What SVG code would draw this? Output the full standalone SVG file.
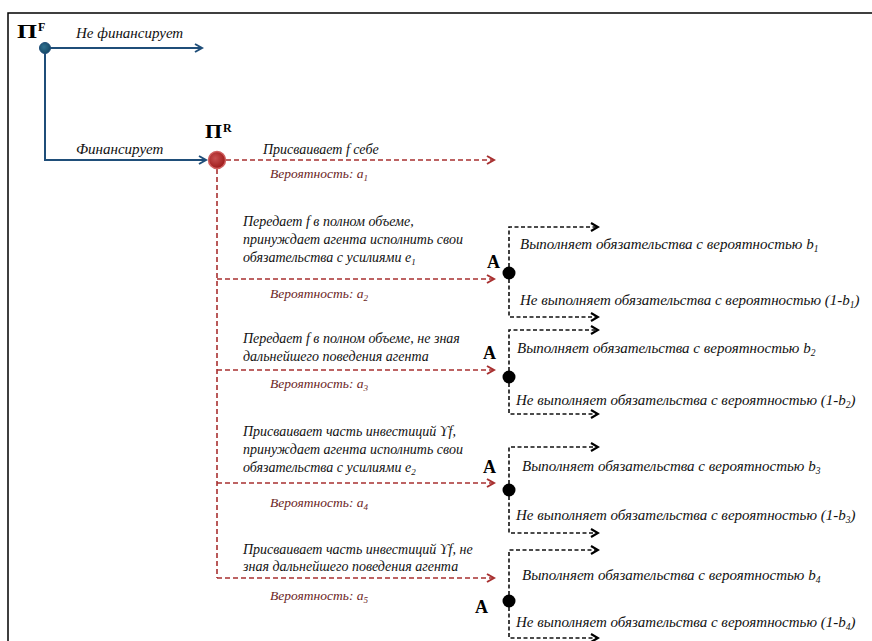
<svg xmlns="http://www.w3.org/2000/svg" width="872" height="641" viewBox="0 0 872 641">
<style>
  .frame{fill:none;stroke:#000;stroke-width:1.5}
  .blue{fill:none;stroke:#1f4e79;stroke-width:2}
  .red{fill:none;stroke:#a83030;stroke-width:1.6;stroke-dasharray:5 3}
  .blk{fill:none;stroke:#111;stroke-width:1.6;stroke-dasharray:4 2.5}
  .lbl{font-family:"Liberation Serif","DejaVu Serif",serif;font-style:italic;font-size:14px;fill:#111}
  .lblR{font-family:"Liberation Serif","DejaVu Serif",serif;font-style:italic;font-size:15px;fill:#111}
  .prob{font-family:"Liberation Serif","DejaVu Serif",serif;font-style:italic;font-size:13.5px;fill:#6b1e1e}
  .pi{font-family:"Liberation Serif","DejaVu Serif",serif;font-weight:bold;font-size:19px;fill:#000}
  .sup{font-family:"Liberation Serif","DejaVu Serif",serif;font-weight:bold;font-size:12px;fill:#000}
  .ag{font-family:"Liberation Serif","DejaVu Serif",serif;font-weight:bold;font-size:18px;fill:#000}
</style>
<defs>
  <marker id="mBlue" markerWidth="10" markerHeight="10" refX="8" refY="5" orient="auto" markerUnits="userSpaceOnUse">
    <path d="M1,1 L8,5 L1,9" fill="none" stroke="#1f4e79" stroke-width="2"/>
  </marker>
  <marker id="mRed" markerWidth="10" markerHeight="10" refX="8" refY="5" orient="auto" markerUnits="userSpaceOnUse">
    <path d="M1,1 L8,5 L1,9" fill="none" stroke="#a83030" stroke-width="2"/>
  </marker>
  <marker id="mBlk" markerWidth="10" markerHeight="10" refX="8" refY="5" orient="auto" markerUnits="userSpaceOnUse">
    <path d="M1,1 L8,5 L1,9" fill="none" stroke="#000" stroke-width="2.2"/>
  </marker>
  <radialGradient id="gRed" cx="0.4" cy="0.4" r="0.6">
    <stop offset="0" stop-color="#c85050"/>
    <stop offset="1" stop-color="#9e1b1b"/>
  </radialGradient>
  <radialGradient id="gBlue" cx="0.4" cy="0.4" r="0.6">
    <stop offset="0" stop-color="#2f7090"/>
    <stop offset="1" stop-color="#164a66"/>
  </radialGradient>
</defs>

<path class="frame" d="M8,641 L8,13 L872,13"/>

<g id="connectors">
  <path class="blue" d="M45,48 L202,48" marker-end="url(#mBlue)"/>
  <path class="blue" d="M45,48 L45,160 L206,160" marker-end="url(#mBlue)"/>

  <path class="red" d="M226,160 L494,160" marker-end="url(#mRed)"/>
  <path class="red" d="M217,169 L217,578"/>
  <path class="red" d="M217,279 L494,279" marker-end="url(#mRed)"/>
  <path class="red" d="M217,370 L494,370" marker-end="url(#mRed)"/>
  <path class="red" d="M217,483 L494,483" marker-end="url(#mRed)"/>
  <path class="red" d="M217,578 L494,578" marker-end="url(#mRed)"/>

  <path class="blk" d="M509,267 L509,227 L598,227" marker-end="url(#mBlk)"/>
  <path class="blk" d="M509,279 L509,317 L598,317" marker-end="url(#mBlk)"/>
  <path class="blk" d="M509,371 L509,330 L598,330" marker-end="url(#mBlk)"/>
  <path class="blk" d="M509,383 L509,414 L598,414" marker-end="url(#mBlk)"/>
  <path class="blk" d="M509,484 L509,447 L598,447" marker-end="url(#mBlk)"/>
  <path class="blk" d="M509,496 L509,533 L598,533" marker-end="url(#mBlk)"/>
  <path class="blk" d="M509,595 L509,550 L598,550" marker-end="url(#mBlk)"/>
  <path class="blk" d="M509,607 L509,638 L598,638" marker-end="url(#mBlk)"/>
</g>

<g id="edge-labels">
  <text class="lblR" x="76" y="38">Не финансирует</text>
  <text class="lblR" x="76" y="154">Финансирует</text>

  <text class="lbl" x="263" y="154">Присваивает f себе</text>
  <text class="prob" x="270" y="178">Вероятность: a<tspan font-size="9" dy="3">1</tspan></text>

  <text class="lbl" x="243" y="226">Передает f в полном объеме,</text>
  <text class="lbl" x="243" y="244">принуждает агента исполнить свои</text>
  <text class="lbl" x="243" y="262">обязательства с усилиями e<tspan font-size="9" dy="3">1</tspan></text>
  <text class="prob" x="270" y="298">Вероятность: a<tspan font-size="9" dy="3">2</tspan></text>

  <text class="lbl" x="243" y="343">Передает f в полном объеме, не зная</text>
  <text class="lbl" x="243" y="361">дальнейшего поведения агента</text>
  <text class="prob" x="270" y="388">Вероятность: a<tspan font-size="9" dy="3">3</tspan></text>

  <text class="lbl" x="243" y="436">Присваивает  часть инвестиций ϒf,</text>
  <text class="lbl" x="243" y="454">принуждает агента исполнить свои</text>
  <text class="lbl" x="243" y="472">обязательства с усилиями e<tspan font-size="9" dy="3">2</tspan></text>
  <text class="prob" x="270" y="507">Вероятность: a<tspan font-size="9" dy="3">4</tspan></text>

  <text class="lbl" x="243" y="554">Присваивает  часть инвестиций ϒf, не</text>
  <text class="lbl" x="243" y="571">зная дальнейшего поведения агента</text>
  <text class="prob" x="270" y="600">Вероятность: a<tspan font-size="9" dy="3">5</tspan></text>

  <text class="lblR" x="520" y="249">Выполняет обязательства с вероятностью b<tspan font-size="9.5" dy="3">1</tspan></text>
  <text class="lblR" x="520" y="305">Не выполняет обязательства с вероятностью (1-b<tspan font-size="9.5" dy="3">1</tspan><tspan dy="-3">)</tspan></text>
  <text class="lblR" x="517" y="353">Выполняет обязательства с вероятностью b<tspan font-size="9.5" dy="3">2</tspan></text>
  <text class="lblR" x="516" y="405">Не выполняет обязательства с вероятностью (1-b<tspan font-size="9.5" dy="3">2</tspan><tspan dy="-3">)</tspan></text>
  <text class="lblR" x="522" y="471">Выполняет обязательства с вероятностью b<tspan font-size="9.5" dy="3">3</tspan></text>
  <text class="lblR" x="516" y="520">Не выполняет обязательства с вероятностью (1-b<tspan font-size="9.5" dy="3">3</tspan><tspan dy="-3">)</tspan></text>
  <text class="lblR" x="522" y="580">Выполняет обязательства с вероятностью b<tspan font-size="9.5" dy="3">4</tspan></text>
  <text class="lblR" x="516" y="627">Не выполняет обязательства с вероятностью (1-b<tspan font-size="9.5" dy="3">4</tspan><tspan dy="-3">)</tspan></text>
</g>

<g id="node-PF">
  <circle cx="45" cy="48" r="5.5" fill="url(#gBlue)" stroke="#1f4e79" stroke-width="1"/>
  <text class="pi" x="17" y="38" textLength="20" lengthAdjust="spacingAndGlyphs">Π</text>
  <text class="sup" x="38" y="31">F</text>
</g>

<g id="node-PR">
  <circle cx="217" cy="160" r="8.5" fill="url(#gRed)" stroke="#d06060" stroke-width="1.5"/>
  <text class="pi" x="205" y="138" textLength="17" lengthAdjust="spacingAndGlyphs">Π</text>
  <text class="sup" x="223" y="132">R</text>
</g>

<g id="node-A1">
  <circle cx="509" cy="273" r="6.5" fill="#000"/>
  <text class="ag" x="487" y="268">A</text>
</g>
<g id="node-A2">
  <circle cx="509" cy="377" r="6.5" fill="#000"/>
  <text class="ag" x="483" y="359">A</text>
</g>
<g id="node-A3">
  <circle cx="509" cy="490" r="6.5" fill="#000"/>
  <text class="ag" x="483" y="473">A</text>
</g>
<g id="node-A4">
  <circle cx="509" cy="601" r="6.5" fill="#000"/>
  <text class="ag" x="475" y="613">A</text>
</g>
</svg>
